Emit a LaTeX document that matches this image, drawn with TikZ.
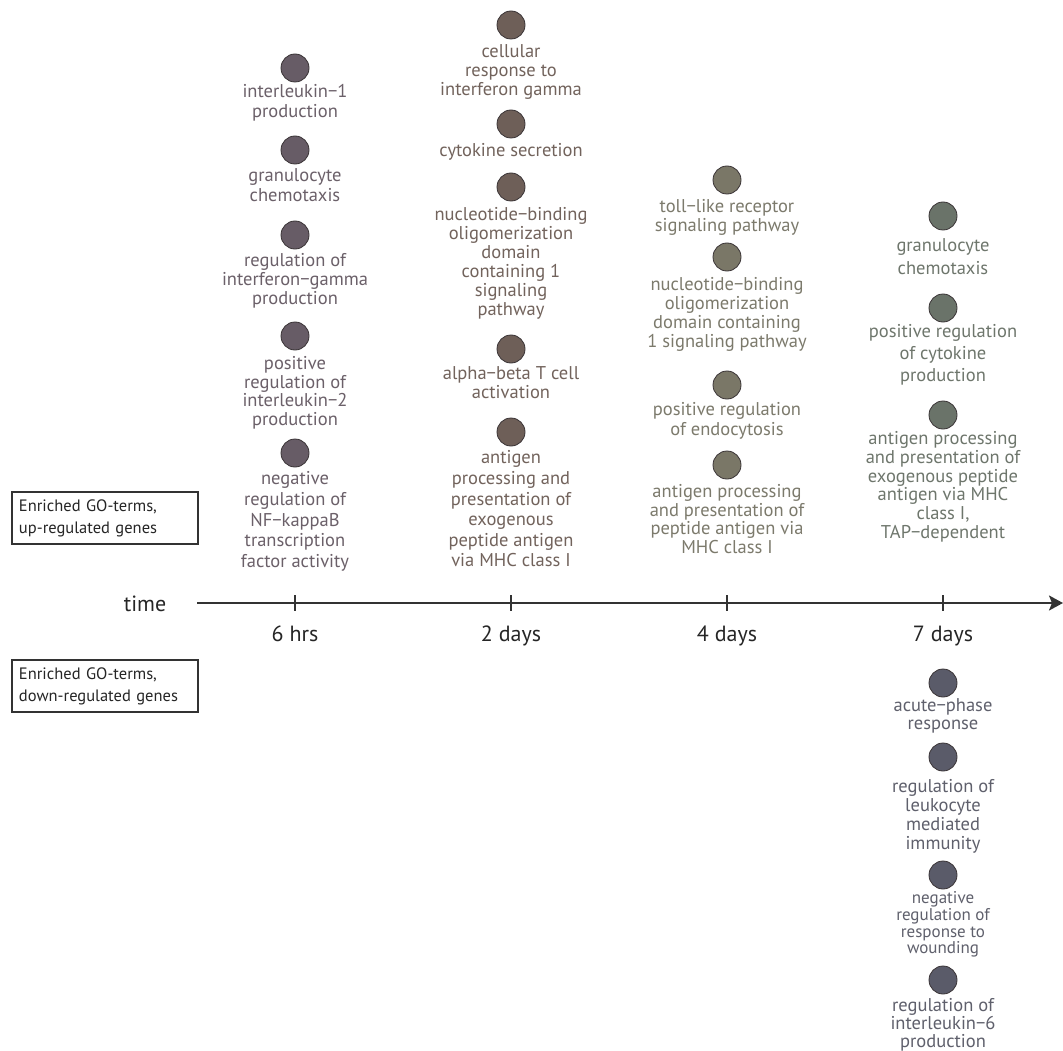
\documentclass[tikz,border=0pt]{standalone}
\usepackage{fontspec}
\setmainfont{PT Sans}
\usetikzlibrary{arrows.meta}
\definecolor{axisc}{HTML}{333333}
\definecolor{rimc}{HTML}{3A3436}
\definecolor{hcol}{HTML}{675C66}
\definecolor{htxt}{HTML}{6B6069}
\definecolor{dcol}{HTML}{6E5F58}
\definecolor{dtxt}{HTML}{72635C}
\definecolor{fcol}{HTML}{7A7767}
\definecolor{ftxt}{HTML}{7C7A6C}
\definecolor{scol}{HTML}{6A7369}
\definecolor{stxt}{HTML}{6E766C}
\definecolor{wcol}{HTML}{5A5B69}
\definecolor{wtxt}{HTML}{5F606C}
\tikzset{
  godot/.style={circle, draw=rimc, line width=0.8pt, minimum size=28pt, inner sep=0pt},
  golabel/.style={align=center, inner sep=0pt, anchor=north},
  legendbox/.style={draw=axisc, line width=1.3pt, text width=172pt, align=left,
     inner xsep=7pt, inner ysep=0pt, minimum height=52pt, text=black!85,
     font=\fontsize{16.5}{22}\selectfont},
  tickc/.style={axisc, line width=1.4pt},
  ticklabel/.style={anchor=base, text=black!85, font=\fontsize{22}{26}\selectfont}
}
% [#1 font size] #2 name, #3 colour key, #4 x, #5 circle y, #6 first line centre y, #7 line skip, #8 text
\newcommand\goterm[8][18.5]{%
  \node[godot, fill=#3col] (#2) at (#4pt,-#5pt) {};
  \node[golabel, text=#3txt, font=\fontsize{#1}{#7}\selectfont, yshift=9.4pt]
     (#2t) at (#4pt,-#6pt) {\rule{0pt}{14pt}#8};
}
\begin{document}
\begin{tikzpicture}[x=1pt,y=1pt]
\fill[white] (0,0) rectangle (1063,-1051);
\useasboundingbox (0,0) rectangle (1063,-1051);

% 6 hrs
\goterm{ha}{h}{295}{68}{93}{19.5}{interleukin−1\\production}
\goterm{hb}{h}{295}{150}{177}{20}{granulocyte\\chemotaxis}
\goterm{hc}{h}{295}{235}{262}{19}{regulation of\\interferon−gamma\\production}
\goterm{hd}{h}{295}{336}{365}{18.5}{positive\\regulation of\\interleukin−2\\production}
\goterm{he}{h}{295}{453}{480}{20.7}{negative\\regulation of\\NF−kappaB\\transcription\\factor activity}

% 2 days
\goterm{da}{d}{511}{25}{53}{18.7}{cellular\\response to\\interferon gamma}
\goterm{db}{d}{511}{124}{152}{19}{cytokine secretion}
\goterm{dc}{d}{511}{187}{216}{19}{nucleotide−binding\\oligomerization\\domain\\containing 1\\signaling\\pathway}
\goterm{dd}{d}{511}{349}{375}{19}{alpha−beta T cell\\activation}
\goterm{de}{d}{511}{432}{459}{20.6}{antigen\\processing and\\presentation of\\exogenous\\peptide antigen\\via MHC class I}

% 4 days
\goterm{fa}{f}{727}{180}{208}{19}{toll−like receptor\\signaling pathway}
\goterm{fb}{f}{727}{257}{286}{19}{nucleotide−binding\\oligomerization\\domain containing\\1 signaling pathway}
\goterm{fc}{f}{727}{385}{411}{20}{positive regulation\\of endocytosis}
\goterm{fd}{f}{727}{465}{493}{18.5}{antigen processing\\and presentation of\\peptide antigen via\\MHC class I}

% 7 days, up
\goterm{sa}{s}{943}{216}{247}{23}{granulocyte\\chemotaxis}
\goterm{sb}{s}{943}{308}{333}{22}{positive regulation\\of cytokine\\production}
\goterm{sc}{s}{943}{415}{440}{18.7}{antigen processing\\and presentation of\\exogenous peptide\\antigen via MHC\\class I,\\TAP−dependent}

% 7 days, down
\goterm{wa}{w}{943}{683}{707}{17.5}{acute−phase\\response}
\goterm{wb}{w}{943}{757}{788}{19}{regulation of\\leukocyte\\mediated\\immunity}
\goterm[17]{wc}{w}{943}{875}{899}{16.6}{negative\\regulation of\\response to\\wounding}
\goterm{wd}{w}{943}{980}{1007}{18}{regulation of\\interleukin−6\\production}

% legend boxes
\node[legendbox] (upbox) at (105,-518) {Enriched GO-terms,\\up-regulated genes};
\node[legendbox] (downbox) at (105,-686) {Enriched GO-terms,\\down-regulated genes};

% time axis
\node[anchor=base, text=black!85, font=\fontsize{22}{26}\selectfont] (timel) at (145,-611) {time};
\coordinate (axs) at (197,-603);
\coordinate (axe) at (1063,-603);
\draw[axisc, line width=2pt, -{Stealth[length=14pt,width=15pt,inset=3pt]}] (axs) -- (axe);
\foreach \n/\x/\lab in {t1/295/6 hrs, t2/511/2 days, t3/727/4 days, t4/943/7 days}{
  \coordinate (\n top) at (\x,-595);
  \coordinate (\n bot) at (\x,-611);
  \draw[tickc] (\n top) -- (\n bot);
  \node[ticklabel] (\n lab) at (\x,-641) {\lab};
}
\end{tikzpicture}
\end{document}
